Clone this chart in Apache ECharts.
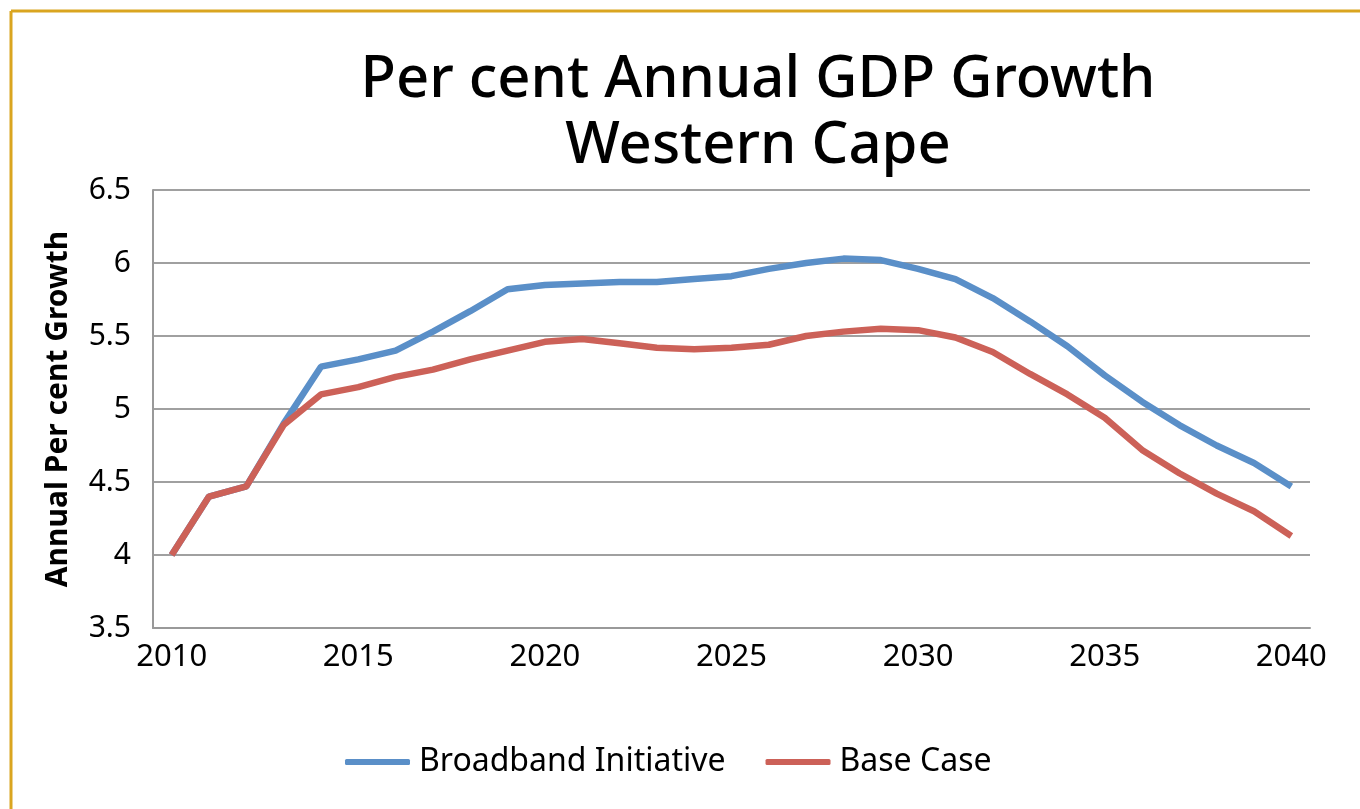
<!DOCTYPE html>
<html>
<head>
<meta charset="utf-8">
<script src="https://cdn.jsdelivr.net/npm/echarts@6/dist/echarts.min.js"></script>
<style>
  html, body { margin: 0; padding: 0; background: #fff; }
  #chart { width: 1360px; height: 809px; }
</style>
</head>
<body>
<div id="chart"></div>
<script>
// years on the x axis
const years = []
for (let y = 2010; y <= 2040; y++) years.push(String(y))

// series values
const broadband = [4.00, 4.40, 4.47, 4.90, 5.29, 5.34, 5.40, 5.53, 5.67, 5.82, 5.85, 5.86, 5.87, 5.87, 5.89, 5.91, 5.96, 6.00, 6.03, 6.02, 5.96, 5.89, 5.76, 5.60, 5.43, 5.23, 5.05, 4.89, 4.75, 4.63, 4.47]
const baseCase = [4.00, 4.40, 4.47, 4.89, 5.10, 5.15, 5.22, 5.27, 5.34, 5.40, 5.46, 5.48, 5.45, 5.42, 5.41, 5.42, 5.44, 5.50, 5.53, 5.55, 5.54, 5.49, 5.39, 5.24, 5.10, 4.94, 4.72, 4.56, 4.42, 4.30, 4.13]

const font = 'Noto Sans'
const chart = echarts.init(document.getElementById('chart'))

const option = {
  backgroundColor: '#fff',
  animation: false,
  title: {
    text: 'Per cent Annual GDP Growth\nWestern Cape',
    left: 753,
    textAlign: 'center',
    top: 42,
    textStyle: {
      fontFamily: font,
      fontSize: 58,
      fontWeight: 500,
      color: '#000',
      lineHeight: 66
    }
  },
  // gold frame on the top and left edges
  graphic: [
    { type: 'line', shape: { x1: 11, y1: 11, x2: 1360, y2: 11 }, style: { stroke: '#DAA520', lineWidth: 3 } },
    { type: 'line', shape: { x1: 11, y1: 11, x2: 11, y2: 809 }, style: { stroke: '#DAA520', lineWidth: 3 } }
  ],
  legend: {
    bottom: 26,
    left: 340,
    itemWidth: 65,
    itemHeight: 6,
    itemGap: 40,
    icon: 'roundRect',
    textStyle: { fontFamily: font, fontSize: 32, color: '#000', padding: [0, 0, 0, 4] },
    data: ['Broadband Initiative', 'Base Case']
  },
  grid: { left: 153, right: 50, top: 190, bottom: 181 },
  xAxis: {
    type: 'category',
    data: years,
    boundaryGap: true,
    axisLine: { lineStyle: { color: '#999', width: 2 } },
    axisTick: { inside: true, length: 8, lineStyle: { color: '#999', width: 2 }, interval: 0 },
    axisLabel: { interval: 4, fontFamily: font, fontSize: 31, color: '#000', margin: 14 }
  },
  yAxis: {
    type: 'value',
    min: 3.5,
    max: 6.5,
    interval: 0.5,
    name: 'Annual Per cent Growth',
    nameLocation: 'middle',
    nameGap: 80,
    nameTextStyle: { fontFamily: font, fontSize: 30, fontWeight: 'bold', color: '#000' },
    axisLine: { show: true, lineStyle: { color: '#999', width: 2 } },
    axisTick: { show: false },
    splitLine: { lineStyle: { color: '#a0a0a0', width: 2 } },
    axisLabel: { fontFamily: font, fontSize: 30, color: '#000', margin: 22 }
  },
  series: [
    {
      name: 'Broadband Initiative',
      type: 'line',
      data: broadband,
      symbol: 'none',
      color: '#5A8FC8',
      lineStyle: { width: 6.5 }
    },
    {
      name: 'Base Case',
      type: 'line',
      data: baseCase,
      symbol: 'none',
      color: '#CC6158',
      lineStyle: { width: 6.5 }
    }
  ]
}

chart.setOption(option)
</script>
</body>
</html>
